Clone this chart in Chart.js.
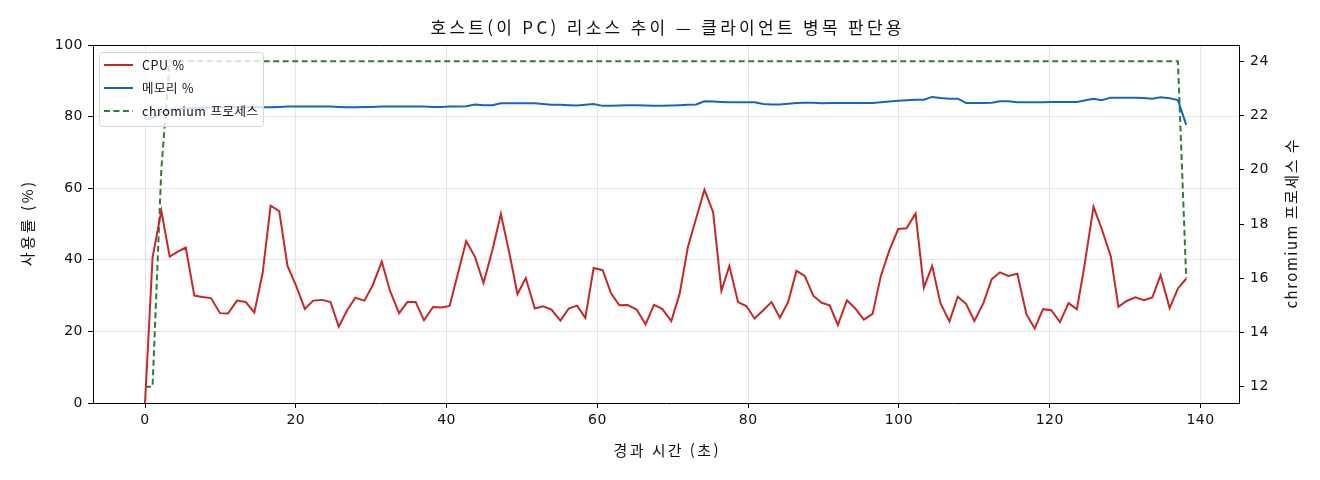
<!DOCTYPE html>
<html lang="ko">
<head>
<meta charset="utf-8">
<title>호스트 리소스 추이</title>
<script src="https://cdn.jsdelivr.net/npm/chart.js@4.4.1/dist/chart.umd.min.js"></script>
<style>
  html, body { margin: 0; padding: 0; background: #fff; }
  #host-chart { display: block; }
</style>
</head>
<body>
<canvas id="host-chart" width="1320" height="480"></canvas>
<script>
// 경과 시간 (초)
const elapsedSec = [
  0, 1.0, 2.16, 3.27, 4.3, 5.4, 6.54, 7.6, 8.75, 9.94,
  11.0, 12.2, 13.35, 14.5, 15.6, 16.66, 17.8, 18.9, 20.0, 21.2,
  22.3, 23.5, 24.6, 25.7, 26.8, 27.9, 29.1, 30.2, 31.4, 32.5,
  33.7, 34.8, 35.9, 37.0, 38.2, 39.3, 40.4, 41.5, 42.6, 43.75,
  44.9, 46.05, 47.2, 48.35, 49.4, 50.5, 51.7, 52.8, 53.9, 55.1,
  56.2, 57.3, 58.4, 59.5, 60.7, 61.8, 62.9, 64.0, 65.2, 66.4,
  67.5, 68.6, 69.8, 70.9, 72.0, 73.1, 74.2, 75.35, 76.45, 77.5,
  78.65, 79.75, 80.85, 82.0, 83.1, 84.2, 85.3, 86.4, 87.5, 88.65,
  89.75, 90.8, 91.9, 93.1, 94.2, 95.35, 96.5, 97.6, 98.7, 99.9,
  101.0, 102.2, 103.3, 104.4, 105.5, 106.7, 107.8, 108.9, 110.0, 111.2,
  112.3, 113.4, 114.5, 115.7, 116.9, 118.0, 119.1, 120.2, 121.35, 122.5,
  123.6, 124.6, 125.8, 126.9, 128.1, 129.1, 130.2, 131.35, 132.5, 133.6,
  134.7, 135.9, 137.0, 138.1,
];

const cpuPct = [
  0, 40.6, 53.7, 40.9, 42.2, 43.4, 30.0, 29.6, 29.3, 25.1,
  25.0, 28.6, 28.2, 25.3, 36.3, 55.1, 53.6, 38.3, 32.9, 26.3,
  28.6, 28.8, 28.2, 21.3, 25.9, 29.4, 28.6, 32.9, 39.5, 31.3,
  25.1, 28.2, 28.2, 23.1, 26.8, 26.7, 27.1, 36.2, 45.2, 40.9,
  33.5, 42.5, 52.8, 41.6, 30.4, 34.9, 26.4, 27.0, 26.1, 23.0,
  26.4, 27.2, 23.8, 37.7, 37.1, 30.7, 27.3, 27.4, 26.1, 22.0,
  27.4, 26.3, 22.9, 30.4, 43.5, 51.6, 59.6, 53.3, 31.3, 38.3,
  28.2, 27.1, 23.6, 25.9, 28.2, 23.8, 28.2, 36.9, 35.5, 29.9,
  28.0, 27.3, 21.8, 28.7, 26.4, 23.3, 24.9, 35.5, 42.5, 48.6,
  48.8, 52.9, 32.2, 38.3, 27.9, 22.8, 29.7, 27.7, 22.9, 27.9,
  34.6, 36.5, 35.5, 36.1, 24.8, 20.8, 26.2, 25.9, 22.6, 27.9,
  26.2, 38.3, 54.8, 48.6, 40.9, 26.9, 28.5, 29.5, 28.7, 29.5,
  35.7, 26.5, 32.0, 34.7,
];

const memPct = [
  79.3, 79.6, 81.3, 82.0, 82.2, 82.3, 82.4, 82.5, 82.6, 82.6,
  82.6, 82.6, 82.7, 82.7, 82.6, 82.6, 82.7, 82.8, 82.8, 82.8,
  82.8, 82.8, 82.8, 82.7, 82.6, 82.6, 82.7, 82.7, 82.8, 82.8,
  82.8, 82.8, 82.8, 82.8, 82.7, 82.7, 82.8, 82.8, 82.9, 83.4,
  83.2, 83.2, 83.7, 83.7, 83.7, 83.7, 83.7, 83.5, 83.3, 83.3,
  83.2, 83.1, 83.3, 83.5, 83.0, 83.0, 83.1, 83.2, 83.2, 83.1,
  83.0, 83.0, 83.1, 83.2, 83.3, 83.4, 84.3, 84.2, 84.1, 84.0,
  84.0, 84.0, 84.0, 83.5, 83.4, 83.4, 83.6, 83.8, 83.9, 83.9,
  83.7, 83.8, 83.8, 83.8, 83.8, 83.8, 83.8, 84.0, 84.2, 84.4,
  84.6, 84.7, 84.7, 85.5, 85.2, 85.0, 85.0, 83.8, 83.8, 83.8,
  83.9, 84.3, 84.3, 84.0, 84.0, 84.0, 84.0, 84.1, 84.1, 84.1,
  84.1, 84.5, 85.0, 84.6, 85.3, 85.3, 85.3, 85.3, 85.2, 85.0,
  85.4, 85.1, 84.6, 77.7,
];

const chromiumCount = [
  12, 12, 20, 24, 24, 24, 24, 24, 24, 24,
  24, 24, 24, 24, 24, 24, 24, 24, 24, 24,
  24, 24, 24, 24, 24, 24, 24, 24, 24, 24,
  24, 24, 24, 24, 24, 24, 24, 24, 24, 24,
  24, 24, 24, 24, 24, 24, 24, 24, 24, 24,
  24, 24, 24, 24, 24, 24, 24, 24, 24, 24,
  24, 24, 24, 24, 24, 24, 24, 24, 24, 24,
  24, 24, 24, 24, 24, 24, 24, 24, 24, 24,
  24, 24, 24, 24, 24, 24, 24, 24, 24, 24,
  24, 24, 24, 24, 24, 24, 24, 24, 24, 24,
  24, 24, 24, 24, 24, 24, 24, 24, 24, 24,
  24, 24, 24, 24, 24, 24, 24, 24, 24, 24,
  24, 24, 24, 16,
];

const xTicks = [0, 20, 40, 60, 80, 100, 120, 140];
const pctTicks = [0, 20, 40, 60, 80, 100];
const procTicks = [12, 14, 16, 18, 20, 22, 24];

const chartTitle = "호스트(이 PC) 리소스 추이 — 클라이언트 병목 판단용";
const xTitle = "경과 시간 (초)";
const yTitle = "사용률 (%)";
const y2Title = "chromium 프로세스 수";

const KR_FONT = "'Noto Sans CJK KR', 'Noto Sans', sans-serif";
const NUM_FONT = "'DejaVu Sans', 'Noto Sans CJK KR', sans-serif";

function toPoints(ys) {
  return ys.map((y, i) => ({ x: elapsedSec[i], y: y }));
}

function fixTicks(values) {
  return (scale) => {
    scale.ticks = values.map((v) => ({ value: v }));
  };
}

function drawLabel(ctx, text, x, y, size, spacing, angle) {
  ctx.save();
  ctx.translate(x, y);
  if (angle) ctx.rotate(angle);
  ctx.font = `${size}px ${KR_FONT}`;
  ctx.letterSpacing = `${spacing}px`;
  ctx.fillStyle = "#111";
  ctx.textAlign = "center";
  ctx.textBaseline = "middle";
  // letterSpacing 은 끝 글자 뒤에도 붙으므로 반만큼 보정
  ctx.fillText(text, spacing / 2, 0);
  ctx.restore();
}

// 눈금 글자 간격 + 위쪽 테두리 + 제목들
const framePlugin = {
  id: "frame",
  beforeDraw(chart) {
    chart.ctx.letterSpacing = "0.5px";
  },
  afterDraw(chart) {
    const { ctx, chartArea } = chart;
    ctx.save();
    ctx.strokeStyle = "#000";
    ctx.lineWidth = 1;
    ctx.beginPath();
    ctx.moveTo(chartArea.left, chartArea.top + 0.5);
    ctx.lineTo(chartArea.right, chartArea.top + 0.5);
    ctx.stroke();
    ctx.restore();

    const midX = (chartArea.left + chartArea.right) / 2;
    const midY = (chartArea.top + chartArea.bottom) / 2;
    drawLabel(ctx, chartTitle, midX, 28, 17, 3.3);
    drawLabel(ctx, xTitle, midX, 450, 15, 2.4);
    drawLabel(ctx, yTitle, 27, midY, 15, 2.6, -Math.PI / 2);
    drawLabel(ctx, y2Title, 1291, midY, 15, 1.5, -Math.PI / 2);
  },
};

// 범례 (왼쪽 위, 차트 안쪽)
const legendPlugin = {
  id: "boxLegend",
  afterDatasetsDraw(chart) {
    const { ctx, chartArea } = chart;
    const x = chartArea.left + 6;
    const y = chartArea.top + 7;
    const w = 164;
    const h = 74;
    ctx.save();
    ctx.beginPath();
    ctx.roundRect(x + 0.5, y + 0.5, w, h, 3);
    ctx.fillStyle = "rgba(255,255,255,0.8)";
    ctx.fill();
    ctx.strokeStyle = "#d6d6d6";
    ctx.lineWidth = 1;
    ctx.stroke();

    ctx.font = `12.5px ${KR_FONT}`;
    ctx.letterSpacing = "0.5px";
    ctx.textBaseline = "middle";
    ctx.fillStyle = "#111";
    chart.data.datasets.forEach((ds, i) => {
      const rowY = y + 13 + i * 23;
      ctx.beginPath();
      ctx.strokeStyle = ds.borderColor;
      ctx.lineWidth = ds.borderWidth;
      ctx.setLineDash(ds.borderDash || []);
      ctx.moveTo(x + 5, rowY);
      ctx.lineTo(x + 34, rowY);
      ctx.stroke();
      ctx.setLineDash([]);
      ctx.fillText(ds.label, x + 43, rowY);
    });
    ctx.restore();
  },
};

function renderHostChart() {
  const canvas = document.querySelector("#host-chart");
  const tickFont = { family: NUM_FONT, size: 14 };

  new Chart(canvas, {
    type: "line",
    data: {
      datasets: [
        {
          label: "CPU %",
          data: toPoints(cpuPct),
          borderColor: "#c62828",
          borderWidth: 2,
          yAxisID: "y",
        },
        {
          label: "메모리 %",
          data: toPoints(memPct),
          borderColor: "#1565c0",
          borderWidth: 2,
          yAxisID: "y",
        },
        {
          label: "chromium 프로세스",
          data: toPoints(chromiumCount),
          borderColor: "#2e7d32",
          borderWidth: 2,
          borderDash: [6, 3.5],
          yAxisID: "y2",
        },
      ],
    },
    options: {
      responsive: false,
      animation: false,
      devicePixelRatio: 1,
      elements: { point: { radius: 0 }, line: { tension: 0 } },
      layout: { padding: { left: 12, right: 0, top: 45, bottom: 0 } },
      scales: {
        x: {
          type: "linear",
          min: -6.9,
          max: 145.1,
          afterBuildTicks: fixTicks(xTicks),
          afterFit: (s) => { s.height = 77; },
          grid: { color: "rgba(0,0,0,0.1)", tickColor: "#000", tickLength: 5 },
          border: { color: "#000", width: 1 },
          ticks: { font: tickFont, color: "#111", padding: 4, maxRotation: 0 },
        },
        y: {
          position: "left",
          min: 0,
          max: 100,
          afterBuildTicks: fixTicks(pctTicks),
          afterFit: (s) => { s.width = 81; },
          grid: { color: "rgba(0,0,0,0.1)", tickColor: "#000", tickLength: 5 },
          border: { color: "#000", width: 1 },
          ticks: { font: tickFont, color: "#111", padding: 5 },
        },
        y2: {
          position: "right",
          min: 11.4,
          max: 24.6,
          afterBuildTicks: fixTicks(procTicks),
          afterFit: (s) => { s.width = 81; },
          grid: { drawOnChartArea: false, tickColor: "#000", tickLength: 5 },
          border: { color: "#000", width: 1 },
          ticks: { font: tickFont, color: "#111", padding: 6 },
        },
      },
      plugins: {
        legend: { display: false },
        tooltip: { enabled: false },
        title: { display: false },
      },
    },
    plugins: [legendPlugin, framePlugin],
  });
}

renderHostChart();
</script>
</body>
</html>
